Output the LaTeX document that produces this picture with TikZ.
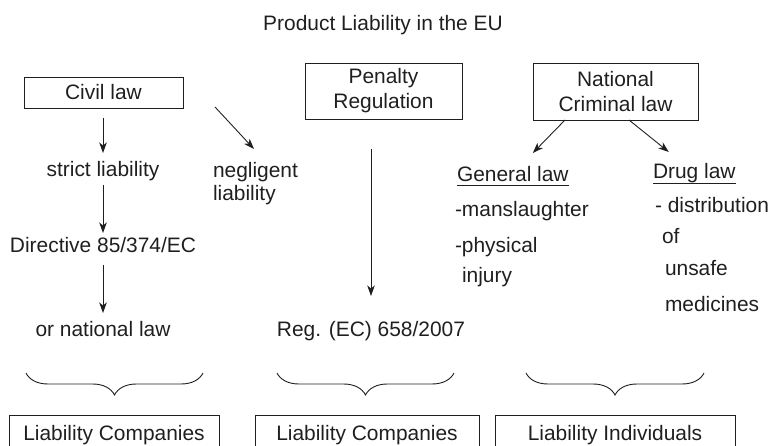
\documentclass[tikz,border=0pt]{standalone}
\usepackage{fontspec}
\setmainfont{Liberation Sans}
\usetikzlibrary{arrows.meta,decorations.pathreplacing}

\begin{document}
\begin{tikzpicture}[x=1bp,y=-1bp,
  every node/.style={font=\fontsize{21}{25}\selectfont, text=black!88, inner sep=0pt, outer sep=0pt},
  lbl/.style={text height=15bp, text depth=4bp},
  box/.style={draw=black!88, line width=0.9bp, align=center},
  arr/.style={draw=black!88, -{Stealth[length=10.5bp,width=7.5bp,inset=3bp]}, line width=0.9bp},
  brc/.style={draw=black!88, decorate, decoration={brace, mirror, amplitude=22bp}, line width=0.9bp},
  uline/.style={draw=black!88, line width=1bp}
]
\useasboundingbox (0,0) rectangle (772,446);
\clip (0,0) rectangle (772,446);

% heading
\node[anchor=base] (title) at (383,31) {Product Liability in the EU};

% the three sources of liability
\node[box, minimum width=159bp, minimum height=31bp] (civil) at (103.5,92.5) {Civil law};
\node[box, minimum width=157bp, minimum height=56bp] (penalty) at (383.5,91) {Penalty\\Regulation};
\node[box, minimum width=165bp, minimum height=57bp] (national) at (615.5,91.5) {National\\Criminal law};

% civil law branch
\node[lbl, anchor=base] (strict) at (103,177) {strict liability};
\node[lbl, anchor=base] (directive) at (103,253) {Directive 85/374/EC};
\node[lbl, anchor=base] (natlaw) at (103,337) {or national law};
\node[anchor=north west, align=left, font=\fontsize{21}{23}\selectfont] (neglig) at (213,162) {negligent\\liability};

% penalty regulation branch
\node[lbl, anchor=base] (reg) at (371,337) {Reg. (EC) 658/2007};

% national criminal law branch
\node[lbl, anchor=base west] (general) at (457,182) {General law};
\node[lbl, anchor=base west] (mansl) at (455,217) {-manslaughter};
\node[lbl, anchor=base west] (phys) at (455,253) {-physical};
\node[lbl, anchor=base west] (injury) at (462,283) {injury};
\node[lbl, anchor=base west] (drug) at (653,179) {Drug law};
\node[lbl, anchor=base west] (distr) at (655,213) {- distribution};
\node[lbl, anchor=base west] (of) at (662,244) {of};
\node[lbl, anchor=base west] (unsafe) at (665,276) {unsafe};
\node[lbl, anchor=base west] (medic) at (665,312) {medicines};

% who is liable
\node[box, lbl, minimum width=210bp, minimum height=40bp, anchor=north] (liab1) at (114,415) {Liability Companies};
\node[box, lbl, minimum width=224bp, minimum height=40bp, anchor=north] (liab2) at (367,415) {Liability Companies};
\node[box, lbl, minimum width=240bp, minimum height=40bp, anchor=north] (liab3) at (615,415) {Liability Individuals};

% connectors
\draw[arr, shorten <=10bp, shorten >=9bp] (civil.south -| strict.north) -- (strict.north);
\draw[arr, shorten <=4bp, shorten >=5bp] (strict.south) -- (directive.north);
\draw[arr, shorten <=8bp, shorten >=9bp] (directive.south) -- (natlaw.north);
\draw[arr] ([xshift=32bp, yshift=1bp]civil.south east) -- ([xshift=41bp, yshift=13bp]neglig.north west);
\draw[arr, shorten <=30bp, shorten >=26bp] (penalty.south -| reg.north) -- (reg.north);
\draw[arr] ([xshift=-50.5bp]national.south) -- ([xshift=20bp, yshift=14bp]general.north);
\draw[arr] ([xshift=13.5bp]national.south) -- ([xshift=-25.5bp, yshift=12bp]drug.north);

% underlined headings
\draw[uline] ([yshift=-4bp]general.base west) -- ([yshift=-4bp]general.base east);
\draw[uline] ([yshift=-5bp]drug.base west) -- ([yshift=-5bp]drug.base east);

% braces gathering each branch
\coordinate (b1l) at (26,373);  \coordinate (b1r) at (203,373);
\coordinate (b2l) at (277,373); \coordinate (b2r) at (454,373);
\coordinate (b3l) at (526,373); \coordinate (b3r) at (704,373);
\draw[brc] (b1l) -- (b1r);
\draw[brc] (b2l) -- (b2r);
\draw[brc] (b3l) -- (b3r);
\end{tikzpicture}
\end{document}
